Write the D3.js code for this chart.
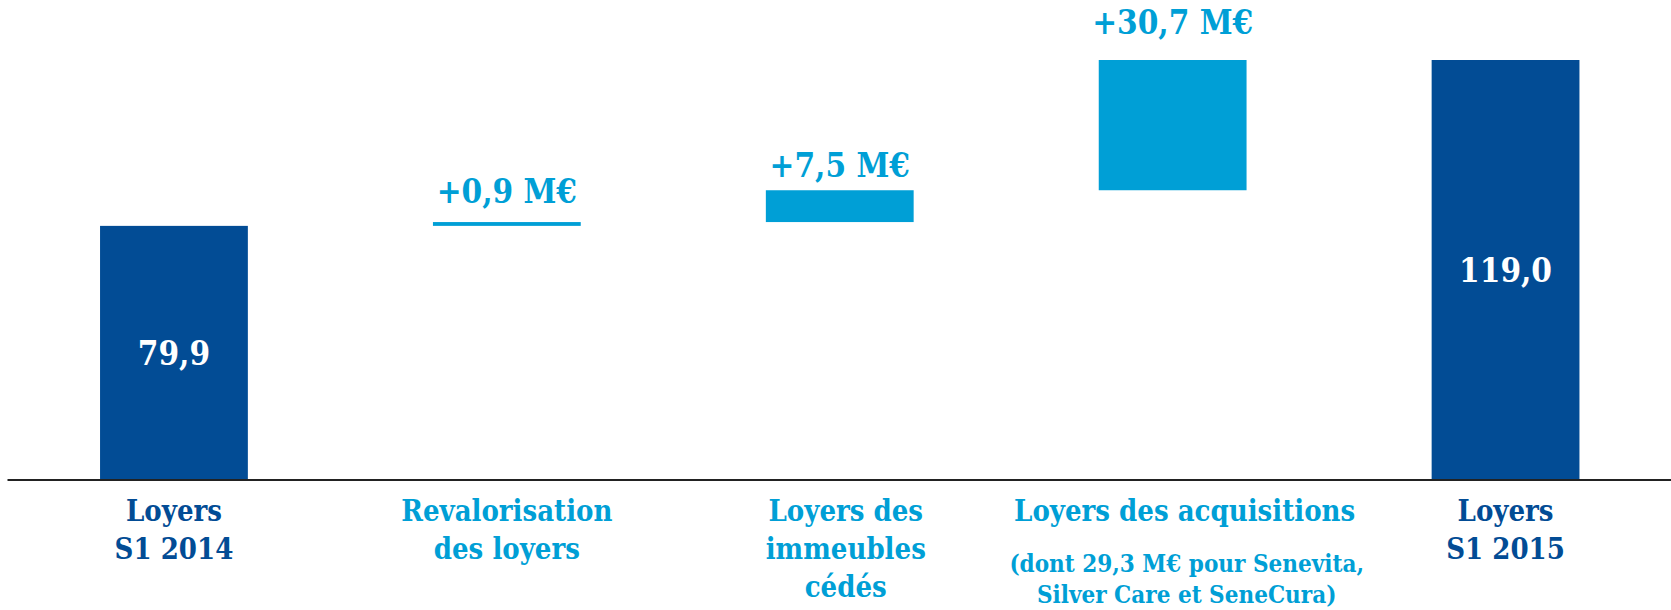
<!DOCTYPE html>
<html lang="fr"><head><meta charset="utf-8">
<title>Loyers S1 2014 - S1 2015</title>
<script src="https://cdn.jsdelivr.net/npm/d3@7"></script>
<style>
  body { margin: 0; background: #fff; }
  text { font-family: "DejaVu Serif Condensed", "DejaVu Serif", serif; font-stretch: condensed; font-weight: bold; }
</style>
</head>
<body>
<script>
// waterfall: start, three increments, end
var categories = ["S1 2014", "Revalorisation", "Cedes", "Acquisitions", "S1 2015"];
var kinds = ["total", "delta", "delta", "delta", "total"];
var values = [79.9, 0.9, 7.5, 30.7, 119.0];
var valueLabels = ["79,9", "+0,9 M€", "+7,5 M€", "+30,7 M€", "119,0"];
var catLabels = [
  ["Loyers", "S1 2014"],
  ["Revalorisation", "des loyers"],
  ["Loyers des", "immeubles", "cédés"],
  ["Loyers des acquisitions"],
  ["Loyers", "S1 2015"]
];
var noteLines = ["(dont 29,3 M€ pour Senevita,", "Silver Care et SeneCura)"];

var width = 1671, height = 610;
var baseY = 480;
var dark = "#024c95", light = "#009fd6";

// gap between a delta bar and its label (hand placed in the original)
var labelGap = [0, 19, 13, 26, 0];

var svg = d3.select("body").append("svg")
    .attr("width", width)
    .attr("height", height);

var x = d3.scaleBand()
    .domain(categories)
    .range([7.5, 1672])
    .paddingInner(0.556)
    .paddingOuter(0.278);

// axis sits at ~20 M€, not at zero
var y = d3.scaleLinear().domain([20, 119]).range([baseY, 60]);

// build running totals
var run = 0;
var bars = categories.map(function(c, i) {
  var lo, hi;
  if (kinds[i] == "total") { lo = y.domain()[0]; hi = values[i]; run = values[i]; }
  else { lo = run; hi = run + values[i]; run = hi; }
  return { cat: c, kind: kinds[i], lo: lo, hi: hi, label: valueLabels[i], gap: labelGap[i], lines: catLabels[i] };
});

svg.selectAll("rect.bar")
    .data(bars)
    .enter()
    .append("rect")
    .attr("class", "bar")
    .attr("x", function(d) { return x(d.cat); })
    .attr("width", x.bandwidth())
    .attr("y", function(d) { return y(d.hi); })
    .attr("height", function(d) { return Math.max(3.5, y(d.lo) - y(d.hi)); })
    .attr("fill", function(d) { return d.kind == "total" ? dark : light; });

svg.append("line")
    .attr("x1", 7.5).attr("x2", width)
    .attr("y1", baseY).attr("y2", baseY)
    .attr("stroke", "#222")
    .attr("stroke-width", 2);

// value labels
svg.selectAll("text.val")
    .data(bars)
    .enter()
    .append("text")
    .attr("class", "val")
    .attr("text-anchor", "middle")
    .attr("font-size", 33)
    .attr("x", function(d) { return x(d.cat) + x.bandwidth() / 2; })
    .attr("y", function(d) {
      if (d.kind == "total") return (y(d.hi) + y(d.lo)) / 2 + 12;
      return y(d.hi) - d.gap;
    })
    .attr("fill", function(d) { return d.kind == "total" ? "#fff" : light; })
    .text(function(d) { return d.label; });

// category labels
var cat = svg.selectAll("text.cat")
    .data(bars)
    .enter()
    .append("text")
    .attr("class", "cat")
    .attr("text-anchor", "middle")
    .attr("font-size", 29)
    .attr("fill", function(d) { return d.kind == "total" ? dark : light; })
    .attr("x", function(d, i) { return x(d.cat) + x.bandwidth() / 2 + (i == 2 ? 6 : 0) + (i == 3 ? 12 : 0); })
    .attr("y", 521);

cat.selectAll("tspan")
    .data(function(d) { return d.lines.map(function(l) { return { t: l, x: d3.select(this).attr("x") }; }, this); })
    .enter()
    .append("tspan")
    .attr("x", function(d) { return d.x; })
    .attr("dy", function(d, i) { return i == 0 ? 0 : 38; })
    .text(function(d) { return d.t; });

var note = svg.append("text")
    .attr("text-anchor", "middle")
    .attr("font-size", 24)
    .attr("fill", light)
    .attr("y", 572);

note.selectAll("tspan")
    .data(noteLines)
    .enter()
    .append("tspan")
    .attr("x", x(categories[3]) + x.bandwidth() / 2 + 14)
    .attr("dy", function(d, i) { return i == 0 ? 0 : 31; })
    .text(function(d) { return d; });
</script>
</body></html>
